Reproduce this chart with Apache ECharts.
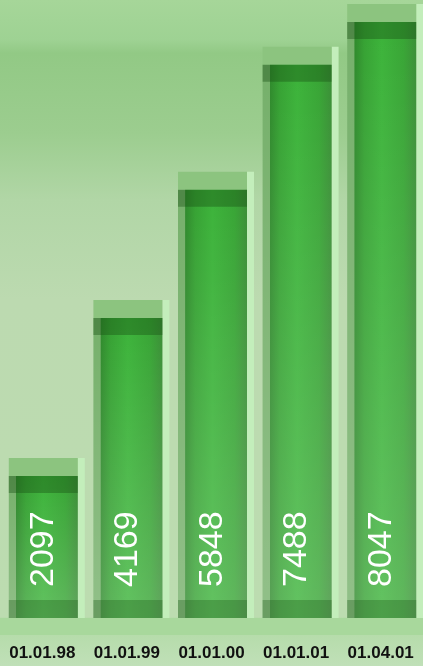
<!DOCTYPE html>
<html>
<head>
<meta charset="utf-8">
<script src="https://cdn.jsdelivr.net/npm/echarts@6/dist/echarts.min.js"></script>
<style>
  html, body { margin: 0; padding: 0; }
  #chart { width: 423px; height: 666px; }
</style>
</head>
<body>
<div id="chart"></div>
<script>
// data
const categories = ['01.01.98', '01.01.99', '01.01.00', '01.01.01', '01.04.01'];
const values = [2097, 4169, 5848, 7488, 8047];

const chart = echarts.init(document.getElementById('chart'));
const LG = echarts.graphic.LinearGradient;

function renderItem(params, api) {
    const v = api.value(1);
    const top = api.coord([api.value(0), v]);
    const base = api.coord([api.value(0), 0]);
    const w = 69;
    const cx = top[0] + 1;
    const x = cx - w / 2;
    const h = base[1] - top[1];
    const cap = 18;
    const bodyY = top[1] + cap;
    const bodyH = h - cap;
    return {
        type: 'group',
        children: [
            // pale highlight stripe on the right
            { type: 'rect', shape: { x: x + w, y: top[1], width: 7, height: h }, style: { fill: '#c3eebb' } },
            // muted cap
            { type: 'rect', shape: { x: x, y: top[1], width: w, height: cap }, style: { fill: '#8cc47f' } },
            // body
            {
                type: 'rect', shape: { x: x, y: bodyY, width: w, height: bodyH },
                style: {
                    fill: new LG(0, 0, 1, 0, [
                        { offset: 0, color: '#76b06b' },
                        { offset: 0.1, color: '#76b06b' },
                        { offset: 0.11, color: '#2f8a2c' },
                        { offset: 0.25, color: '#36a233' },
                        { offset: 0.5, color: '#3cb33a' },
                        { offset: 0.82, color: '#38a535' },
                        { offset: 1, color: '#3a8f36' }
                    ])
                }
            },
            // lightening toward the bottom
            {
                type: 'rect', shape: { x: x, y: bodyY, width: w, height: bodyH },
                style: {
                    fill: new LG(0, 0, 0, 1, [
                        { offset: 0, color: 'rgba(255,255,255,0)' },
                        { offset: 1, color: 'rgba(255,255,255,0.2)' }
                    ])
                }
            },
            // dark top band
            { type: 'rect', shape: { x: x, y: bodyY, width: w, height: 17 }, style: { fill: 'rgba(25,80,20,0.4)' } },
            // dark bottom band
            { type: 'rect', shape: { x: x, y: base[1] - 18, width: w, height: 18 }, style: { fill: 'rgba(35,95,30,0.35)' } },
            // value label
            {
                type: 'text',
                x: top[0] + 1,
                y: base[1] - 31,
                rotation: Math.PI / 2,
                style: {
                    text: String(v),
                    fill: '#ffffff',
                    font: '34px "Liberation Sans", Arial, sans-serif',
                    align: 'left',
                    verticalAlign: 'middle'
                }
            }
        ]
    };
}

const option = {
    animation: false,
    graphic: [{
        type: 'rect', z: -100, silent: true,
        shape: { x: 0, y: 0, width: 423, height: 666 },
        style: {
            fill: new LG(0, 0, 0, 1, [
                { offset: 0, color: '#a6d699' },
                { offset: 0.06, color: '#9ed293' },
                { offset: 0.08, color: '#92c985' },
                { offset: 0.2, color: '#9ccd8f' },
                { offset: 0.3, color: '#b1d6a6' },
                { offset: 0.45, color: '#bcdab0' },
                { offset: 0.927, color: '#bcdcb0' },
                { offset: 0.928, color: '#a8d89c' },
                { offset: 0.953, color: '#a8d89c' },
                { offset: 0.954, color: '#b6dcab' },
                { offset: 1, color: '#c0e0b8' }
            ])
        }
    }],
    grid: { left: 0, right: 0, top: 0, bottom: 48 },
    xAxis: {
        type: 'category',
        data: categories,
        axisLine: { show: false },
        axisTick: { show: false },
        axisLabel: {
            interval: 0,
            margin: 27,
            color: '#111111',
            fontSize: 17,
            fontWeight: 'bold',
            fontFamily: '"Liberation Sans Narrow", "Arial Narrow", "Liberation Sans", sans-serif'
        }
    },
    yAxis: {
        type: 'value',
        min: 0,
        max: 8100,
        show: false,
        splitLine: { show: false }
    },
    series: [{
        type: 'custom',
        renderItem: renderItem,
        encode: { x: 0, y: 1 },
        data: values.map((v, i) => [i, v])
    }]
};
chart.setOption(option);
</script>
</body>
</html>
